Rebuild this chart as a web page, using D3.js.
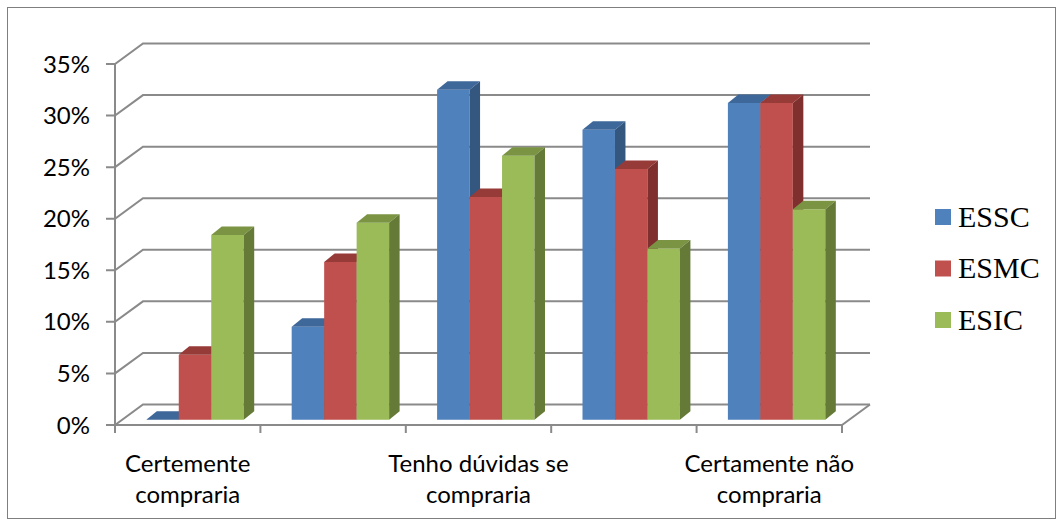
<!DOCTYPE html>
<html>
<head>
<meta charset="utf-8">
<script src="https://cdn.jsdelivr.net/npm/d3@7"></script>
<style>
  html, body { margin: 0; padding: 0; background: #fff; }
  svg { display: block; }
</style>
</head>
<body>
<svg id="chart" width="1063" height="526"></svg>
<script>
// Purchase intention by school group
const categories = ["Certemente compraria", "c2", "Tenho dúvidas se compraria", "c4", "Certamente não compraria"];
const tickLabels = [["Certemente", "compraria"], [], ["Tenho dúvidas se", "compraria"], [], ["Certamente não", "compraria"]];
const seriesNames = ["ESSC", "ESMC", "ESIC"];
const ESSC = [0.000, 0.090, 0.320, 0.281, 0.307];
const ESMC = [0.063, 0.153, 0.216, 0.243, 0.307];
const ESIC = [0.179, 0.191, 0.256, 0.166, 0.204];
const yTicks = [0, 0.05, 0.10, 0.15, 0.20, 0.25, 0.30, 0.35];

const seriesValues = [ESSC, ESMC, ESIC];
const colors = {
  front: ["#4F81BD", "#C0504D", "#9BBB59"],
  top:   ["#3E679A", "#973B39", "#7A9443"],
  side:  ["#345780", "#7F302E", "#647A36"]
};

const svg = d3.select("#chart");
const gridColor = "#8a8a8a";
const labelFont = "Lato, 'Open Sans', sans-serif";

// oblique depth of the plot floor and of each column
const floorDX = 28, floorDY = -20.5;
const barOffX = 7.3, barOffY = -5.3;
const barDX = 10.5, barDY = -8.5;

const x0 = d3.scaleBand().domain(categories).range([115, 842]).paddingInner(0).paddingOuter(0);
const groupFrac = 0.67;
const x1 = d3.scaleBand().domain(seriesNames)
  .range([x0.bandwidth() * (1 - groupFrac) / 2, x0.bandwidth() * (1 + groupFrac) / 2]);
const y = d3.scaleLinear().domain([0, 0.35]).range([425, 64]);

// chart frame
svg.append("rect").attr("x", 7.5).attr("y", 7.5).attr("width", 1048).attr("height", 511)
  .attr("fill", "none").attr("stroke", "#7f7f7f").attr("stroke-width", 1);

// back wall gridlines with the diagonal connectors to the value axis
const grid = svg.append("g").attr("fill", "none").attr("stroke", gridColor).attr("stroke-width", 2);
yTicks.forEach(t => {
  const yf = y(t);
  grid.append("path").attr("d",
    `M106,${yf}H115L${115 + floorDX},${yf + floorDY}H${842 + floorDX}`);
});
// floor edges
grid.append("path").attr("d", `M115,${y(0)}H842L${842 + floorDX},${y(0) + floorDY}`);
// value axis line
grid.append("path").attr("d", `M115,${y(0.35)}V433`);
// category ticks
const boundaries = categories.map(c => x0(c)).concat([x0.range()[1]]);
boundaries.forEach(bx => {
  grid.append("path").attr("d", `M${bx},${y(0)}V433`);
});

// value axis labels
svg.append("g").selectAll("text").data(yTicks).join("text")
  .attr("x", 90).attr("y", d => y(d)).attr("dy", "0.36em")
  .attr("text-anchor", "end")
  .attr("font-family", labelFont).attr("font-size", 24)
  .attr("fill", "#000")
  .text(d3.format(".0%"));

// category labels
const catG = svg.append("g");
categories.forEach((c, i) => {
  const cx = x0(c) + x0.bandwidth() / 2;
  tickLabels[i].forEach((line, j) => {
    catG.append("text").attr("x", cx).attr("y", 472 + j * 31)
      .attr("text-anchor", "middle")
      .attr("font-family", labelFont).attr("font-size", 24)
      .attr("fill", "#000").text(line);
  });
});

// columns, painted left to right so nearer faces overlap
const bars = svg.append("g");
categories.forEach((c, i) => {
  seriesNames.forEach((s, k) => {
    const v = seriesValues[k][i];
    const xl = x0(c) + x1(s) + barOffX;
    const xr = xl + x1.bandwidth();
    const yb = y(0) + barOffY;
    const yt = y(v) + barOffY;
    const g = bars.append("g");
    g.append("path").attr("d", `M${xl},${yb}H${xr}V${yt}H${xl}Z`).attr("fill", colors.front[k]);
    g.append("path").attr("d",
      `M${xl},${yt}L${xl + barDX},${yt + barDY}H${xr + barDX}L${xr},${yt}Z`).attr("fill", colors.top[k]);
    g.append("path").attr("d",
      `M${xr},${yb}L${xr + barDX},${yb + barDY}V${yt + barDY}L${xr},${yt}Z`).attr("fill", colors.side[k]);
  });
});

// legend
const legend = svg.append("g");
seriesNames.forEach((s, k) => {
  const base = 226.5 + k * 51.5;
  legend.append("rect").attr("x", 935).attr("y", base - 17.5).attr("width", 16).attr("height", 16)
    .attr("fill", colors.front[k]);
  legend.append("text").attr("x", 958).attr("y", base)
    .attr("font-family", "'Liberation Serif', 'Times New Roman', serif").attr("font-size", 30)
    .attr("fill", "#000").text(s);
});
</script>
</body>
</html>
